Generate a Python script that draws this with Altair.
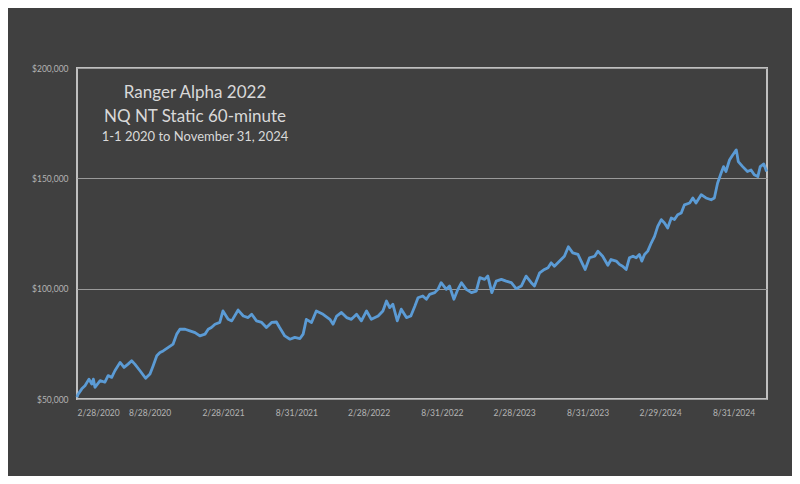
import altair as alt
import pandas as pd

dates = [
    "2020-02-28", "2020-03-01", "2020-03-11", "2020-03-19", "2020-03-29", "2020-04-05", "2020-04-09",
    "2020-04-13", "2020-04-26", "2020-05-08", "2020-05-16", "2020-05-25", "2020-06-02", "2020-06-15",
    "2020-06-25", "2020-07-05", "2020-07-14", "2020-07-22", "2020-08-04", "2020-08-18", "2020-08-29",
    "2020-09-06", "2020-09-15", "2020-09-23", "2020-10-01", "2020-10-14", "2020-10-26", "2020-11-04",
    "2020-11-12", "2020-11-25", "2020-12-07", "2020-12-20", "2021-01-01", "2021-01-14", "2021-01-22",
    "2021-01-30", "2021-02-08", "2021-02-20", "2021-02-28", "2021-03-13", "2021-03-22", "2021-04-07",
    "2021-04-20", "2021-05-02", "2021-05-11", "2021-05-23", "2021-06-05", "2021-06-17", "2021-06-30",
    "2021-07-12", "2021-07-20", "2021-08-02", "2021-08-15", "2021-08-27", "2021-09-09", "2021-09-17",
    "2021-09-25", "2021-10-08", "2021-10-20", "2021-11-06", "2021-11-23", "2021-12-01", "2021-12-10",
    "2021-12-22", "2022-01-04", "2022-01-16", "2022-01-29", "2022-02-10", "2022-02-23", "2022-03-07",
    "2022-03-24", "2022-04-05", "2022-04-14", "2022-04-22", "2022-04-30", "2022-05-11", "2022-05-21",
    "2022-06-03", "2022-06-14", "2022-06-24", "2022-07-02", "2022-07-14", "2022-07-23", "2022-07-31",
    "2022-08-13", "2022-08-21", "2022-08-29", "2022-09-11", "2022-09-19", "2022-09-30", "2022-10-10",
    "2022-10-19", "2022-10-31", "2022-11-13", "2022-11-25", "2022-12-04", "2022-12-16", "2022-12-24",
    "2023-01-03", "2023-01-14", "2023-01-27", "2023-02-08", "2023-02-21", "2023-03-05", "2023-03-18",
    "2023-03-30", "2023-04-12", "2023-04-20", "2023-05-03", "2023-05-15", "2023-05-24", "2023-06-01",
    "2023-06-09", "2023-06-22", "2023-07-04", "2023-07-14", "2023-07-25", "2023-08-07", "2023-08-15",
    "2023-08-25", "2023-09-05", "2023-09-18", "2023-09-26", "2023-10-08", "2023-10-21", "2023-10-29",
    "2023-11-11", "2023-11-19", "2023-11-27", "2023-12-06", "2023-12-14", "2023-12-23", "2023-12-31",
    "2024-01-08", "2024-01-14", "2024-01-21", "2024-01-29", "2024-02-07", "2024-02-15", "2024-02-23",
    "2024-03-03", "2024-03-11", "2024-03-19", "2024-03-28", "2024-04-05", "2024-04-13", "2024-04-22",
    "2024-04-30", "2024-05-13", "2024-05-21", "2024-05-29", "2024-06-11", "2024-06-23", "2024-07-06",
    "2024-07-14", "2024-07-22", "2024-07-31", "2024-08-06", "2024-08-12", "2024-08-21", "2024-08-29",
    "2024-09-07", "2024-09-12", "2024-09-23", "2024-10-05", "2024-10-14", "2024-10-22", "2024-10-31",
    "2024-11-06", "2024-11-15", "2024-11-22",
]

equity_k = [
    50.8, 51.9, 54.6, 56.0, 59.0, 56.8, 59.0,
    55.3, 58.3, 57.6, 60.6, 59.8, 62.8, 66.6,
    64.3, 65.8, 67.3, 65.8, 62.8, 59.4, 61.3,
    65.1, 69.6, 71.1, 71.8, 73.4, 74.9, 79.4,
    81.6, 81.6, 80.9, 80.1, 78.6, 79.4, 81.6,
    82.4, 83.9, 84.7, 89.9, 86.1, 85.4, 90.3,
    87.6, 86.9, 88.4, 85.4, 84.7, 82.4, 84.7,
    84.9, 82.4, 78.6, 77.1, 77.9, 77.4, 79.4,
    86.1, 84.7, 89.9, 88.4, 86.1, 83.9, 87.6,
    89.2, 86.9, 86.1, 88.4, 85.4, 89.9, 86.1,
    87.6, 89.9, 94.4, 91.4, 92.9, 85.4, 90.7,
    86.9, 87.6, 92.0, 95.9, 96.7, 95.2, 97.4,
    98.2, 99.7, 102.7, 99.7, 101.2, 95.2, 99.7,
    102.7, 99.7, 98.2, 98.9, 105.0, 104.2, 105.7,
    98.2, 103.4, 104.2, 103.4, 102.7, 100.0, 101.2,
    105.7, 102.7, 101.2, 107.2, 108.7, 109.5, 111.7,
    110.2, 112.5, 114.7, 119.0, 116.2, 115.5, 112.5,
    108.7, 114.0, 114.7, 117.0, 114.7, 110.6, 113.2,
    112.5, 111.0, 110.2, 108.7, 114.0, 114.7, 114.0,
    115.5, 112.5, 115.5, 117.0, 120.8, 123.7, 128.2,
    131.3, 129.8, 127.5, 132.0, 131.3, 133.5, 134.3,
    138.0, 138.8, 141.1, 138.8, 142.6, 141.1, 140.3,
    141.1, 147.8, 152.4, 155.3, 153.1, 158.3, 160.6,
    162.9, 157.6, 155.3, 153.1, 153.8, 151.6, 150.8,
    155.3, 156.5, 153.1,
]

x_tick_dates = [
    "2020-02-28", "2020-08-28", "2021-02-28", "2021-08-31", "2022-02-28",
    "2022-08-31", "2023-02-28", "2023-08-31", "2024-02-29", "2024-08-31",
]
y_ticks = [50000, 100000, 150000, 200000]
title_lines = ["Ranger Alpha 2022", "NQ NT Static 60-minute", "1-1 2020 to November 31, 2024"]
title_sizes = [17, 17, 13]

df = pd.DataFrame({"date": dates, "equity": [v * 1000 for v in equity_k]})

BG = "#404040"
TXT = "#d9d9d9"

line = alt.Chart(df).mark_line(color="#5b9bd5", strokeWidth=2.8, strokeJoin="round").encode(
    x=alt.X(
        "date:T",
        scale=alt.Scale(domain=["2020-02-28", "2024-11-23"], nice=False),
        axis=alt.Axis(
            values=x_tick_dates,
            format="%-m/%-d/%Y",
            title=None,
            grid=False,
            ticks=False,
            domain=False,
            labelColor="#b4b4b4",
            labelFontSize=8.5,
            labelPadding=9,
            labelFont="Lato",
            labelAngle=0,
        ),
    ),
    y=alt.Y(
        "equity:Q",
        scale=alt.Scale(domain=[50000, 200000], nice=False),
        axis=alt.Axis(
            values=y_ticks,
            format="$,.0f",
            title=None,
            grid=True,
            gridColor="#9a9a9a",
            gridWidth=1,
            ticks=False,
            domain=False,
            labelColor="#b4b4b4",
            labelFontSize=8.5,
            labelPadding=9,
            labelFont="Lato",
        ),
    ),
)

title_y = [25, 49, 69]
title_layers = []
for txt, size, ty in zip(title_lines, title_sizes, title_y):
    tl = (
        alt.Chart(pd.DataFrame({"line": [txt]}))
        .mark_text(color=TXT, font="Lato", fontSize=size, align="center", baseline="middle")
        .encode(text="line:N", x=alt.value(118), y=alt.value(ty))
    )
    title_layers.append(tl)

chart = (
    alt.layer(line, *title_layers)
    .properties(
        width=690,
        height=331,
        background=BG,
        padding={"left": 69, "top": 60, "right": 25, "bottom": 77},
        autosize=alt.AutoSizeParams(type="none"),
    )
    .configure_view(stroke="#c0c0c0", strokeWidth=2, fill=BG)
)

chart.save("out.html", embed_options={"renderer": "svg", "actions": False})
